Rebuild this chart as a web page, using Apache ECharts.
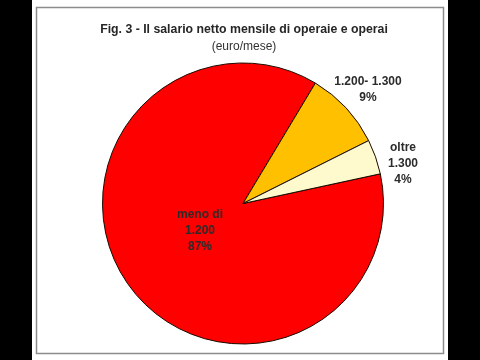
<!DOCTYPE html>
<html>
<head>
<meta charset="utf-8">
<script src="https://cdn.jsdelivr.net/npm/echarts@6/dist/echarts.min.js"></script>
<style>
  html, body { margin: 0; padding: 0; background: #000; }
  #chart { width: 480px; height: 360px; }
</style>
</head>
<body>
<div id="chart"></div>
<script>
// fasce di salario e quote (%)
const categories = ['meno di\n1.200', '1.200- 1.300', 'oltre\n1.300']
const shares = [87, 9, 4]
const sliceColors = ['#ff0000', '#ffc000', '#fffacd']

// posizione delle etichette (come nel grafico originale)
const labelPos = [
  { x: 200, y: 231 },
  { x: 368, y: 90 },
  { x: 403, y: 164 }
]

const chart = echarts.init(document.getElementById('chart'))

chart.setOption({
  backgroundColor: '#000',
  animation: false,
  graphic: [
    {
      type: 'rect',
      z: -10,
      shape: { x: 32, y: 0, width: 416, height: 360 },
      style: { fill: '#fff' }
    },
    {
      type: 'rect',
      z: -9,
      shape: { x: 36.5, y: 7.5, width: 407, height: 346 },
      style: { fill: '#fff', stroke: '#8c8c8c', lineWidth: 1.5 }
    }
  ],
  title: {
    text: 'Fig. 3 - Il salario netto mensile di operaie e operai',
    subtext: '(euro/mese)',
    left: 239,
    textAlign: 'center',
    top: 19,
    itemGap: 5,
    textStyle: {
      fontFamily: 'Liberation Sans, Arial, sans-serif',
      fontSize: 12.3,
      fontWeight: 'bold',
      color: '#262626'
    },
    subtextStyle: {
      fontFamily: 'Liberation Sans, Arial, sans-serif',
      fontSize: 12,
      color: '#333'
    }
  },
  series: [
    {
      type: 'pie',
      center: [243, 203.5],
      radius: 140.5,
      startAngle: 12.2,
      clockwise: true,
      data: categories.map((name, i) => ({
        name,
        value: shares[i],
        itemStyle: { color: sliceColors[i] }
      })),
      itemStyle: {
        borderColor: '#1a0a00',
        borderWidth: 1
      },
      emphasis: { disabled: true },
      labelLine: { show: false },
      label: {
        show: true,
        position: 'outside',
        formatter(p) {
          return p.name + '\n' + p.value + '%'
        },
        fontFamily: 'Liberation Sans, Arial, sans-serif',
        fontSize: 12,
        fontWeight: 'bold',
        lineHeight: 16,
        color: '#2b2b2b'
      },
      labelLayout(params) {
        const p = labelPos[params.dataIndex]
        return {
          x: p.x,
          y: p.y,
          align: 'center',
          verticalAlign: 'middle'
        }
      }
    }
  ]
})
</script>
</body>
</html>
